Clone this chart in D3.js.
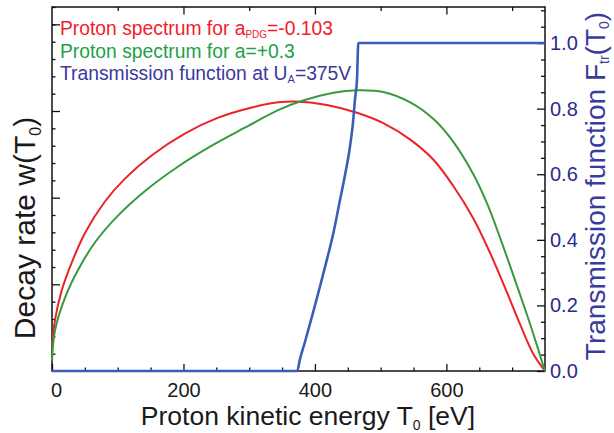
<!DOCTYPE html>
<html>
<head>
<meta charset="utf-8">
<script src="https://cdn.jsdelivr.net/npm/d3@7"></script>
<style>
  body { margin: 0; background: #fff; }
  svg { display: block; font-family: "Liberation Sans", Arial, sans-serif; }
</style>
</head>
<body>
<div id="chart"></div>
<script>
// proton spectrum, a_PDG = -0.103 (T0 in eV, arbitrary units)
var redT = [0, 4.6, 14.8, 30, 50, 80, 111, 152, 202, 252, 304, 344, 370, 418, 464, 504, 545, 580, 610, 641, 666, 692, 712, 732, 747, 750];
var redW = [0.28, 0.59, 0.93, 1.25, 1.59, 1.95, 2.22, 2.49, 2.74, 2.92, 3.04, 3.10, 3.11, 3.07, 2.98, 2.86, 2.67, 2.44, 2.14, 1.76, 1.37, 0.91, 0.54, 0.20, 0.03, 0];

// proton spectrum, a = +0.3
var greenT = [0, 4.6, 20, 40, 65, 100, 142, 192, 243, 294, 344, 377, 428, 464, 504, 545, 580, 610, 641, 662, 682, 702, 723, 738, 747, 750];
var greenW = [0.12, 0.47, 0.85, 1.17, 1.48, 1.79, 2.08, 2.36, 2.60, 2.81, 3.01, 3.11, 3.21, 3.24, 3.22, 3.10, 2.91, 2.65, 2.27, 1.93, 1.53, 1.10, 0.64, 0.29, 0.07, 0];

// transmission function at U_A = 375 V
var trT = [0, 373, 377, 385, 397, 408, 418, 428, 438, 446, 453, 458, 461, 464, 466, 750];
var trF = [0, 0, 0.034, 0.09, 0.177, 0.26, 0.338, 0.42, 0.52, 0.60, 0.68, 0.76, 0.83, 0.89, 1.0, 1.0];

var xMajor = [0, 200, 400, 600];
var xMinor = [50, 100, 150, 250, 300, 350, 450, 500, 550, 650, 700];
var xTopMajor = [200, 400, 600];
var xTopMinor = [100, 300, 500, 700];
var yLeftMajor = [1, 2, 3, 4];
var yLeftMinor = [0.2, 0.4, 0.6, 0.8, 1.2, 1.4, 1.6, 1.8, 2.2, 2.4, 2.6, 2.8, 3.2, 3.4, 3.6, 3.8, 4.0, 4.2];
var yRightMajor = [0, 0.2, 0.4, 0.6, 0.8, 1.0];
var yRightMinor = [0.05, 0.1, 0.15, 0.25, 0.3, 0.35, 0.45, 0.5, 0.55, 0.65, 0.7, 0.75, 0.85, 0.9, 0.95, 1.05, 1.1];

function init() {
    var w = 614, h = 433;
    var pL = 52, pR = 545, pT = 7, pB = 371;   // plot frame

    var x = d3.scaleLinear().domain([0, 750]).range([pL, pR]);
    var yL = d3.scaleLinear().domain([0, 4.2]).range([pB, pT]);
    var yR = d3.scaleLinear().domain([0, 1.11]).range([pB, pT]);

    var svg = d3.select("#chart").append("svg")
        .attr("width", w)
        .attr("height", h);

    function zip(a, b) { return a.map(function(d, i) { return [d, b[i]]; }); }

    function addAxis(axis, tx, ty) {
        var g = svg.append("g")
            .attr("transform", "translate(" + tx + "," + ty + ")")
            .call(axis);
        g.select(".domain").remove();
        g.selectAll(".tick line").attr("stroke", "#111").attr("stroke-width", 1.3);
        return g;
    }

    // ticks, all pointing inward
    addAxis(d3.axisBottom(x).tickValues(xMinor).tickSize(-3.5).tickFormat(""), 0, pB);
    var xb = addAxis(d3.axisBottom(x).tickValues(xMajor).tickSize(-7).tickPadding(12).tickFormat(d3.format("d")), 0, pB);
    xb.selectAll("text").attr("font-size", 20).attr("fill", "#1a1a1a")
        .attr("font-family", "Liberation Sans, Arial, sans-serif");
    xb.selectAll(".tick").filter(function(d) { return d === 0; }).select("text").attr("dx", 4);

    addAxis(d3.axisTop(x).tickValues(xTopMinor).tickSize(-4).tickFormat(""), 0, pT);
    addAxis(d3.axisTop(x).tickValues(xTopMajor).tickSize(-7.5).tickFormat(""), 0, pT);

    addAxis(d3.axisLeft(yL).tickValues(yLeftMinor).tickSize(-3.5).tickFormat(""), pL, 0);
    addAxis(d3.axisLeft(yL).tickValues(yLeftMajor).tickSize(-8).tickFormat(""), pL, 0);

    addAxis(d3.axisRight(yR).tickValues(yRightMinor).tickSize(-4).tickFormat(""), pR, 0);
    var yr = addAxis(d3.axisRight(yR).tickValues(yRightMajor).tickSize(-8).tickPadding(5).tickFormat(d3.format(".1f")), pR, 0);
    yr.selectAll("text").attr("font-size", 20).attr("fill", "#2b2b8c")
        .attr("font-family", "Liberation Sans, Arial, sans-serif");

    // frame
    svg.append("rect")
        .attr("x", pL).attr("y", pT)
        .attr("width", pR - pL).attr("height", pB - pT)
        .attr("fill", "none").attr("stroke", "#111").attr("stroke-width", 1.5);

    // curves
    var lineL = d3.line()
        .x(function(d) { return x(d[0]); })
        .y(function(d) { return yL(d[1]); })
        .curve(d3.curveCatmullRom.alpha(0.5));
    var lineR = d3.line()
        .x(function(d) { return x(d[0]); })
        .y(function(d) { return yR(d[1]); })
        .curve(d3.curveMonotoneX);

    svg.append("path").datum(zip(redT, redW))
        .attr("d", lineL).attr("fill", "none")
        .attr("stroke", "#ec2229").attr("stroke-width", 2);
    svg.append("path").datum(zip(greenT, greenW))
        .attr("d", lineL).attr("fill", "none")
        .attr("stroke", "#379a3c").attr("stroke-width", 2);
    svg.append("path").datum(zip(trT, trF))
        .attr("d", lineR).attr("fill", "none")
        .attr("stroke", "#3a5db6").attr("stroke-width", 2.6);

    // legend
    var legend = svg.append("g").attr("font-size", 19.3);
    var l1 = legend.append("text").attr("x", 60).attr("y", 35).attr("fill", "#f21c2c");
    l1.append("tspan").text("Proton spectrum for a");
    l1.append("tspan").attr("font-size", 10).attr("dy", 3).text("PDG");
    l1.append("tspan").attr("dy", -3).text("=-0.103");

    legend.append("text").attr("x", 60).attr("y", 58).attr("fill", "#1f9f48")
        .text("Proton spectrum for a=+0.3");

    var l3 = legend.append("text").attr("x", 60).attr("y", 80).attr("fill", "#3a3a9c");
    l3.append("tspan").text("Transmission function at U");
    l3.append("tspan").attr("font-size", 11).attr("dy", 3).text("A");
    l3.append("tspan").attr("dy", -3).text("=375V");

    // axis titles
    var xt = svg.append("text")
        .attr("x", 308).attr("y", 425)
        .attr("text-anchor", "middle")
        .attr("font-size", 26.5).attr("fill", "#1a1a1a");
    xt.append("tspan").text("Proton kinetic energy T");
    xt.append("tspan").attr("font-size", 14).attr("dy", 5).text("0");
    xt.append("tspan").attr("dy", -5).text(" [eV]");

    var ylt = svg.append("text")
        .attr("transform", "translate(35,228) rotate(-90)")
        .attr("text-anchor", "middle")
        .attr("font-size", 30).attr("fill", "#1a1a1a");
    ylt.append("tspan").text("Decay rate w(T");
    ylt.append("tspan").attr("font-size", 16).attr("dy", 6).text("0");
    ylt.append("tspan").attr("dy", -6).text(")");

    var yrt = svg.append("text")
        .attr("transform", "translate(605,186) rotate(-90)")
        .attr("text-anchor", "middle")
        .attr("font-size", 28).attr("fill", "#3b3b9e");
    yrt.append("tspan").text("Transmission function F");
    yrt.append("tspan").attr("font-size", 14).attr("dy", 4).text("tr");
    yrt.append("tspan").attr("dy", -4).text("(T");
    yrt.append("tspan").attr("font-size", 14).attr("dy", 4).text("0");
    yrt.append("tspan").attr("dy", -4).text(")");
}

window.onload = init;
</script>
</body>
</html>
